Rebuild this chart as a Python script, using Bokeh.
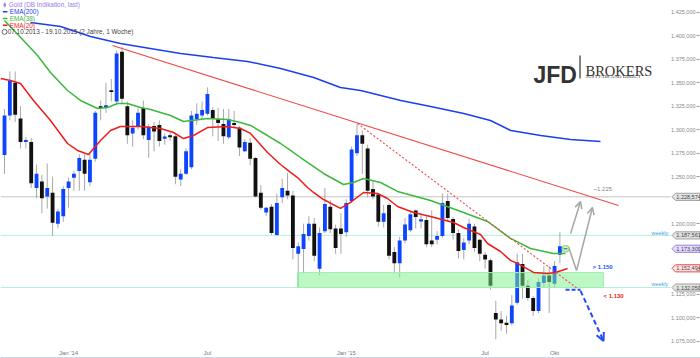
from bokeh.plotting import figure
from bokeh.models import Range1d, LinearAxis, FixedTicker, Arrow, OpenHead
from bokeh.core.properties import value
from bokeh.embed import file_html
from bokeh.resources import INLINE

# ---------------- data (weekly candles, 14.10.2013 .. 12.10.2015) ----------------
week = list(range(105))
opens = [1273, 1315, 1350, 1312, 1287, 1287, 1238, 1245, 1229, 1233,
         1200, 1208, 1238, 1249, 1256, 1268, 1244, 1269, 1325, 1323,
         1342, 1330, 1383, 1325, 1296, 1304, 1323, 1289, 1304, 1305,
         1291, 1294, 1293, 1247, 1253, 1260, 1311, 1315, 1317, 1321,
         1311, 1306, 1292, 1307, 1302, 1277, 1286, 1270, 1233, 1212,
         1218, 1188, 1228, 1235, 1230, 1168, 1173, 1187, 1200, 1152,
         1192, 1218, 1195, 1195, 1191, 1224, 1275, 1294, 1280, 1237,
         1231, 1202, 1220, 1170, 1158, 1182, 1193, 1214, 1203, 1204,
         1182, 1183, 1187, 1224, 1205, 1190, 1172, 1182, 1197, 1183,
         1167, 1161, 1105, 1098, 1094, 1094, 1116, 1157, 1134, 1121,
         1107, 1137, 1145, 1136, 1167]
highs = [1322, 1362, 1362, 1325, 1292, 1291, 1263, 1252, 1264, 1250,
         1216, 1240, 1249, 1256, 1274, 1274, 1274, 1320, 1331, 1350,
         1354, 1384, 1388, 1330, 1310, 1323, 1331, 1306, 1308, 1310,
         1296, 1297, 1295, 1258, 1280, 1320, 1328, 1330, 1345, 1324,
         1323, 1322, 1322, 1320, 1304, 1290, 1291, 1271, 1241, 1218,
         1221, 1232, 1248, 1254, 1235, 1180, 1200, 1208, 1206, 1196,
         1238, 1225, 1199, 1211, 1226, 1282, 1306, 1299, 1284, 1245,
         1232, 1220, 1222, 1175, 1186, 1206, 1214, 1215, 1210, 1208,
         1214, 1192, 1232, 1232, 1207, 1194, 1185, 1205, 1200, 1184,
         1170, 1163, 1118, 1107, 1102, 1124, 1168, 1168, 1140, 1123,
         1142, 1155, 1155, 1160, 1191]
lows = [1253, 1310, 1308, 1280, 1280, 1238, 1227, 1211, 1216, 1187,
        1195, 1202, 1217, 1235, 1235, 1235, 1240, 1266, 1310, 1318,
        1330, 1326, 1328, 1285, 1282, 1300, 1290, 1270, 1277, 1282,
        1284, 1288, 1242, 1240, 1252, 1258, 1305, 1310, 1315, 1293,
        1288, 1285, 1290, 1302, 1272, 1276, 1262, 1228, 1215, 1208,
        1188, 1187, 1222, 1226, 1162, 1132, 1147, 1182, 1160, 1145,
        1190, 1190, 1168, 1168, 1186, 1222, 1272, 1253, 1228, 1226,
        1197, 1196, 1162, 1147, 1143, 1179, 1191, 1195, 1195, 1175,
        1175, 1178, 1185, 1202, 1183, 1163, 1162, 1178, 1170, 1160,
        1152, 1130, 1077, 1086, 1083, 1092, 1114, 1120, 1118, 1102,
        1105, 1133, 1105, 1132, 1158]
closes = [1315, 1352, 1316, 1287, 1289, 1243, 1253, 1227, 1238, 1201,
          1213, 1237, 1245, 1253, 1270, 1253, 1268, 1318, 1323, 1326,
          1340, 1381, 1333, 1294, 1302, 1318, 1294, 1303, 1298, 1288,
          1292, 1292, 1250, 1253, 1277, 1315, 1317, 1321, 1338, 1312,
          1307, 1293, 1311, 1305, 1281, 1287, 1269, 1229, 1217, 1217,
          1190, 1222, 1238, 1230, 1174, 1176, 1189, 1200, 1166, 1190,
          1221, 1194, 1174, 1189, 1222, 1279, 1294, 1285, 1235, 1229,
          1202, 1211, 1166, 1158, 1182, 1199, 1210, 1207, 1204, 1178,
          1178, 1187, 1222, 1206, 1190, 1171, 1180, 1200, 1174, 1168,
          1162, 1134, 1098, 1094, 1093, 1113, 1159, 1134, 1121, 1107,
          1138, 1145, 1138, 1155, 1176]

# EMA lines (week index, price)
ema200_x = [4.87, 10.5, 16.1, 21.7, 27.3, 33.0, 39.1, 45.5, 51.7, 57.9, 62.9,
            66.7, 74.2, 79.8, 86.0, 91.0, 94.8, 100.4, 106.0, 111.6]
ema200_y = [1414.0, 1409.8, 1399.1, 1391.7, 1386.4, 1381.1, 1376.8, 1372.6, 1365.1, 1355.5, 1344.9,
            1341.7, 1331.1, 1324.7, 1317.2, 1309.8, 1299.1, 1293.8, 1289.6, 1287.4]
ema38_x = [0.0, 3.56, 6.18, 8.61, 11.8, 14.23, 17.42, 19.29, 21.16, 23.03,
           25.47, 27.34, 31.09, 33.52, 38.01, 41.76, 44.19, 46.07, 49.25, 51.69,
           53.56, 55.43, 59.74, 63.48, 65.36, 67.23, 70.41, 73.6, 79.78, 85.96,
           90.45, 94.76, 98.5, 102.81, 105.06]
ema38_y = [1416.2, 1394.9, 1378.9, 1360.9, 1341.7, 1331.1, 1322.6, 1323.6, 1327.9, 1327.9,
           1323.6, 1321.5, 1315.1, 1308.7, 1311.9, 1310.9, 1307.7, 1304.5, 1293.8, 1285.3,
           1277.9, 1270.4, 1253.4, 1241.7, 1243.8, 1248.1, 1243.8, 1234.3, 1224.7, 1211.9,
           1202.3, 1184.3, 1173.6, 1168.3, 1168.3]
ema20_x = [-0.75, 1.12, 3.0, 5.43, 8.61, 11.8, 13.67, 15.73, 17.98, 19.85,
           21.72, 25.47, 29.21, 31.65, 33.52, 35.39, 38.01, 41.76, 44.19, 46.07,
           49.25, 51.69, 53.56, 54.87, 56.74, 57.87, 59.74, 62.92, 64.79, 67.23,
           69.85, 71.72, 73.6, 76.59, 79.78, 84.08, 85.96, 89.14, 90.45, 92.88,
           94.76, 96.07, 99.06, 101.69, 103.18, 105.43]
ema20_y = [1354.5, 1352.3, 1349.1, 1331.1, 1309.8, 1285.3, 1277.9, 1273.6, 1288.5, 1299.1,
           1303.4, 1303.4, 1301.3, 1297.0, 1290.6, 1293.8, 1302.3, 1303.4, 1301.3, 1296.0,
           1275.7, 1263.0, 1254.5, 1249.1, 1238.5, 1233.2, 1225.7, 1216.2, 1222.6, 1233.2,
           1232.1, 1226.8, 1218.3, 1211.9, 1207.7, 1201.3, 1195.9, 1188.5, 1178.9, 1170.4,
           1160.9, 1157.7, 1148.1, 1147.0, 1148.1, 1152.3]

# axis ticks
x_tick_idx = [12, 38, 64, 90, 103]
x_tick_labels = ["Jan '14", "Jul", "Jan '15", "Jul", "Okt"]
y_ticks = [1075, 1100, 1125, 1150, 1175, 1200, 1225, 1250, 1275, 1300, 1325, 1350, 1375, 1400, 1425]
y_tick_labels = ["1.075,000", "1.100,000", "1.125,000", "", "", "1.200,000", "", "1.250,000",
                 "1.275,000", "1.300,000", "1.325,000", "1.350,000", "1.375,000", "1.400,000", "1.425,000"]

# horizontal levels
level_gray = 1228.574
level_weekly = [1187.561, 1132.050]
zone_x = [54.87, 112.17]
zone_y = [1132.05, 1148.0]

# price tags on the right
tag_prices = [1228.574, 1187.561, 1173.300, 1152.494, 1132.050]
tag_texts = ["1.228,574", "1.187,561", "1.173,300", "1.152,494", "1.132,050"]
tag_fill = ["#e2e2e2", "#e2e2e2", "#e4dcfb", "#fde3e3", "#e2e2e2"]
tag_line = ["#a0a0a0", "#a0a0a0", "#9b7fe8", "#e84a4a", "#a0a0a0"]

# drawn analysis
trend_x = [20.22, 114.98]
trend_y = [1389.6, 1219.4]
dash_x = [66.10, 107.87]
dash_y = [1306.6, 1128.5]
blue_h_x = [105.06, 107.87]
blue_h_y = [1129.6, 1129.6]
blue_arrow = (107.87, 1128.5, 112.17, 1075.3)
gray_arrow_a = (106.0, 1189.6, 107.87, 1223.6)
gray_v_x = [105.6, 107.12]
gray_v_y = [1175.7, 1150.2]
gray_arrow_b = (107.12, 1150.2, 110.1, 1217.2)
last_price = (105.06, 1173.3)

X0, X1 = -0.75, 130.33      # full frame (week index)
PLOT_END = 124.72           # end of drawing area left of the price scale

# ---------------- figure ----------------
p = figure(frame_width=700, frame_height=348,
           x_range=Range1d(X0, X1), y_range=Range1d(1067.2, 1437.45),
           output_backend="svg", toolbar_location=None, y_axis_location=None,
           min_border=0, background_fill_color="white", border_fill_color="white")
p.outline_line_color = None
p.grid.visible = False

xa = p.xaxis[0]
xa.ticker = FixedTicker(ticks=x_tick_idx)
xa.major_label_overrides = dict(zip(x_tick_idx, x_tick_labels))
xa.major_label_text_font_size = "6px"
xa.major_label_text_color = "#777777"
xa.major_label_text_font = "Liberation Sans"
xa.axis_line_color = None
xa.major_tick_in = 0
xa.major_tick_out = 0
xa.minor_tick_out = 0
xa.major_label_standoff = 1

strip = LinearAxis(axis_line_color="#c9d8ef", axis_line_width=3, major_tick_out=0, major_tick_in=0,
                   minor_tick_out=0, major_label_text_font_size="0px", ticker=FixedTicker(ticks=[]))
p.add_layout(strip, "below")

# price tags (drawn under the price scale)
tag_h = 3.8
tag_xs = [[124.99, 125.65, 130.24, 130.24, 125.65] for _ in tag_prices]
tag_ys = [[pr, pr + tag_h, pr + tag_h, pr - tag_h, pr - tag_h] for pr in tag_prices]
p.patches(tag_xs, tag_ys, fill_color=tag_fill, line_color=tag_line, line_width=1)
p.text(x=[125.8] * len(tag_prices), y=tag_prices, text=tag_texts, text_font=value("Liberation Sans"),
       text_font_size=value("5.5px"), text_color="#444444", text_baseline="middle")

# price scale drawn inside the frame at its right edge
ya = LinearAxis(fixed_location=130.15, ticker=FixedTicker(ticks=y_ticks),
                major_label_overrides=dict(zip(y_ticks, y_tick_labels)),
                major_label_text_font_size="5.5px", major_label_text_color="#888888",
                major_label_text_font="Liberation Sans", axis_line_color=None,
                major_tick_in=0, major_tick_out=3, major_tick_line_color="#999999",
                minor_tick_out=0, minor_tick_in=0, major_label_standoff=1)
p.add_layout(ya, "left")

# horizontal levels
p.segment(x0=[X0], y0=[level_gray], x1=[PLOT_END], y1=[level_gray], color="#c4c4c4", line_width=1)
p.segment(x0=[X0, X0], y0=level_weekly, x1=[PLOT_END, PLOT_END], y1=level_weekly,
          color="#aef2de", line_width=1)

# candles
body_top = [max(o, c) + (0.7 if abs(o - c) < 1.5 else 0) for o, c in zip(opens, closes)]
body_bot = [min(o, c) - (0.7 if abs(o - c) < 1.5 else 0) for o, c in zip(opens, closes)]
colors = ["#0d45ff" if c >= o else "#111111" for o, c in zip(opens, closes)]
p.segment(x0=week, y0=lows, x1=week, y1=highs, color="#a8a8a8", line_width=1)
p.vbar(x=week, width=0.72, top=body_top, bottom=body_bot, fill_color=colors, line_color=None)

# support zone (over candles, translucent)
p.quad(left=[zone_x[0]], right=[zone_x[1]], bottom=[zone_y[0]], top=[zone_y[1]],
       fill_color="#7df08e", fill_alpha=0.5, line_color="#9ef0b0", line_width=1)

# EMAs
p.line(ema200_x, ema200_y, color="#1b3ff0", line_width=1.5)
p.line(ema38_x, ema38_y, color="#3cb83c", line_width=1.5)
p.line(ema20_x, ema20_y, color="#ee1c1c", line_width=1.5)

# trend lines
p.line(trend_x, trend_y, color="#f04848", line_width=1.1)
p.line(dash_x, dash_y, color="#f04848", line_width=1.1, line_dash="2 2")
p.line(blue_h_x, blue_h_y, color="#1f4ff5", line_width=2, line_dash="4 2")
p.add_layout(Arrow(x_start=blue_arrow[0], y_start=blue_arrow[1], x_end=blue_arrow[2], y_end=blue_arrow[3],
                   line_color="#1f4ff5", line_width=2, line_dash="5 3",
                   end=OpenHead(line_color="#1f4ff5", line_width=2, size=8)))
p.add_layout(Arrow(x_start=gray_arrow_a[0], y_start=gray_arrow_a[1], x_end=gray_arrow_a[2], y_end=gray_arrow_a[3],
                   line_color="#a6a6a6", line_width=1.5,
                   end=OpenHead(line_color="#a6a6a6", line_width=1.5, size=7)))
p.line(gray_v_x, gray_v_y, color="#a6a6a6", line_width=1.5)
p.add_layout(Arrow(x_start=gray_arrow_b[0], y_start=gray_arrow_b[1], x_end=gray_arrow_b[2], y_end=gray_arrow_b[3],
                   line_color="#a6a6a6", line_width=1.5,
                   end=OpenHead(line_color="#a6a6a6", line_width=1.5, size=7)))

p.scatter([last_price[0]], [last_price[1]], size=7, fill_color="#c9f2b5", line_color="#8fd07c")
p.segment(x0=[last_price[0] - 0.35], y0=[last_price[1]], x1=[last_price[0] + 0.35], y1=[last_price[1]],
          color="#1f4ff5", line_width=1)

F = value("Liberation Sans")
p.text(x=[110.3], y=[1236.4], text=["~1.225"], text_font=F, text_font_size=value("6px"),
       text_color="#888888", text_baseline="middle")
p.text(x=[110.1], y=[1153.4], text=["> 1.150"], text_font=F, text_font_size=value("6px"),
       text_font_style="bold", text_color="#2356ff", text_baseline="middle")
p.text(x=[112.17], y=[1122.6], text=["< 1.130"], text_font=F, text_font_size=value("6px"),
       text_font_style="bold", text_color="#ee2222", text_baseline="middle")
p.text(x=[124.3, 124.3], y=[1190.6, 1135.3], text=["weekly", "weekly"], text_font=F,
       text_font_size=value("5.5px"), text_color="#4a98f0", text_baseline="middle", text_align="right")

# legend (top-left)
leg_x = [0.8, 0.98, 0.98, 0.98, 0.6]
leg_y = [1432.7, 1425.5, 1418.4, 1411.2, 1404.1]
leg_text = ["Gold (DB Indikation, last)", "EMA(200)", "EMA(38)", "EMA(20)",
            "07.10.2013 - 19.10.2015 (2 Jahre, 1 Woche)"]
leg_col = ["#9d80e8", "#1b3ff0", "#3cb83c", "#ee1c1c", "#444444"]
p.text(x=leg_x, y=leg_y, text=leg_text, text_font=F, text_font_size=value("6.4px"),
       text_color=leg_col, text_baseline="middle")
p.segment(x0=[-0.3] * 3, y0=leg_y[1:4], x1=[0.55] * 3, y1=leg_y[1:4], color=leg_col[1:4], line_width=1.5)
p.segment(x0=[0.05], y0=[leg_y[0] - 2.5], x1=[0.05], y1=[leg_y[0] + 2.5], color="#9d80e8", line_width=1)
p.vbar(x=[0.05], width=0.45, top=[leg_y[0] + 1.5], bottom=[leg_y[0] - 1.5], fill_color="#9d80e8", line_color=None)
p.scatter([0.0], [leg_y[4]], size=5, fill_color=None, line_color="#444444", line_width=0.8)

# logo
p.text(x=[99.06], y=[1357.7], text=["JFD"], text_font=F, text_font_size=value("23px"),
       text_font_style="bold", text_color="#333333", text_baseline="alphabetic")
p.segment(x0=[107.77], y0=[1378.9], x1=[107.77], y1=[1354.5], color="#333333", line_width=1.2)
p.text(x=[108.8], y=[1362.4], text=["BROKERS"], text_font=value("Liberation Serif"),
       text_font_size=value("14.5px"), text_color="#333333", text_baseline="alphabetic")
p.text(x=[108.9], y=[1356.2], text=["JUST FAIR AND DIRECT"], text_font=value("Liberation Serif"),
       text_font_size=value("5px"), text_color="#333333", text_baseline="alphabetic")

open("out.html", "w").write(file_html(p, INLINE))
